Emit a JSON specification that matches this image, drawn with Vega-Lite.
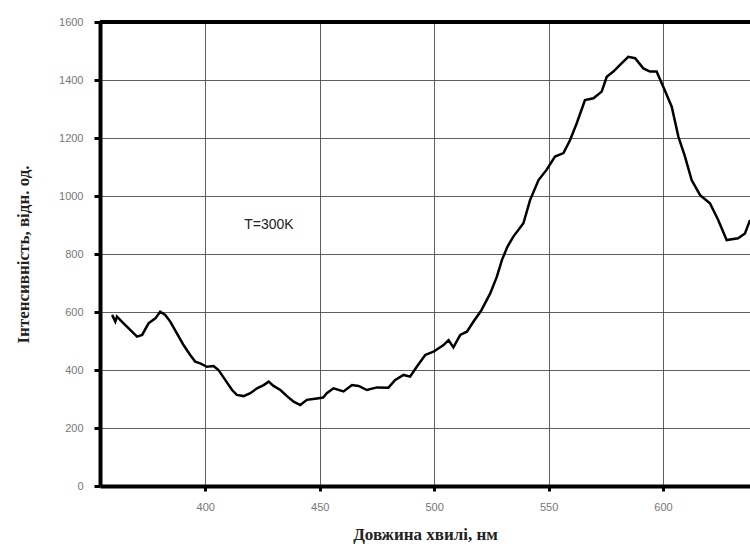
{
  "$schema": "https://vega.github.io/schema/vega-lite/v6.json",
  "autosize": "none",
  "width": 650,
  "height": 464,
  "padding": {"left": 100, "top": 22, "right": 0, "bottom": 65},
  "background": "white",
  "config": {
    "view": {"stroke": null},
    "axis": {
      "grid": true, "gridColor": "#444", "gridWidth": 1, "gridOpacity": 0.85,
      "domainColor": "#000", "domainWidth": 4, "domainOpacity": 1,
      "tickColor": "#000", "tickWidth": 3, "tickOpacity": 1,
      "labelFont": "Liberation Sans", "labelFontSize": 11, "labelColor": "#777",
      "titleFont": "Liberation Serif", "titleFontSize": 17, "titleFontWeight": "bold",
      "titleColor": "#222"
    }
  },
  "datasets": {
    "spectrum": [
      {"wl": 359.3, "I": 590}, {"wl": 360.7, "I": 567}, {"wl": 361.4, "I": 584}, {"wl": 364.3, "I": 561},
      {"wl": 367.2, "I": 538}, {"wl": 370.2, "I": 515}, {"wl": 372.4, "I": 521}, {"wl": 375.2, "I": 561},
      {"wl": 378.2, "I": 578}, {"wl": 380.3, "I": 601}, {"wl": 382.5, "I": 590}, {"wl": 384.7, "I": 567},
      {"wl": 387.6, "I": 526}, {"wl": 390.5, "I": 486}, {"wl": 393.4, "I": 452}, {"wl": 395.6, "I": 429},
      {"wl": 397.8, "I": 423}, {"wl": 400.7, "I": 411}, {"wl": 403.6, "I": 414}, {"wl": 405.8, "I": 400},
      {"wl": 408.7, "I": 366}, {"wl": 411.7, "I": 331}, {"wl": 413.8, "I": 314}, {"wl": 416.7, "I": 310},
      {"wl": 419.7, "I": 320}, {"wl": 422.6, "I": 337}, {"wl": 425.5, "I": 348}, {"wl": 427.7, "I": 360},
      {"wl": 429.8, "I": 345}, {"wl": 432.8, "I": 331}, {"wl": 435.7, "I": 310}, {"wl": 438.6, "I": 291},
      {"wl": 441.5, "I": 279}, {"wl": 444.4, "I": 297}, {"wl": 448.8, "I": 302}, {"wl": 451.5, "I": 305},
      {"wl": 453.1, "I": 320}, {"wl": 456.0, "I": 337}, {"wl": 460.4, "I": 326}, {"wl": 464.1, "I": 348},
      {"wl": 467.0, "I": 345}, {"wl": 470.6, "I": 331}, {"wl": 475.0, "I": 340}, {"wl": 480.0, "I": 339},
      {"wl": 483.0, "I": 366}, {"wl": 486.6, "I": 383}, {"wl": 489.5, "I": 377}, {"wl": 492.4, "I": 411},
      {"wl": 496.1, "I": 452}, {"wl": 499.7, "I": 463}, {"wl": 504.1, "I": 486}, {"wl": 506.3, "I": 503},
      {"wl": 508.4, "I": 478}, {"wl": 511.4, "I": 521}, {"wl": 514.3, "I": 532}, {"wl": 517.2, "I": 567},
      {"wl": 520.5, "I": 604}, {"wl": 524.5, "I": 664}, {"wl": 527.4, "I": 722}, {"wl": 529.6, "I": 779},
      {"wl": 532.0, "I": 825}, {"wl": 534.6, "I": 860}, {"wl": 539.0, "I": 906}, {"wl": 541.9, "I": 986},
      {"wl": 545.6, "I": 1055}, {"wl": 549.1, "I": 1090}, {"wl": 552.8, "I": 1136}, {"wl": 556.5, "I": 1148},
      {"wl": 559.4, "I": 1193}, {"wl": 562.3, "I": 1251}, {"wl": 565.9, "I": 1331}, {"wl": 569.6, "I": 1337},
      {"wl": 573.2, "I": 1360}, {"wl": 575.4, "I": 1411}, {"wl": 578.3, "I": 1429}, {"wl": 581.2, "I": 1452},
      {"wl": 584.8, "I": 1480}, {"wl": 587.8, "I": 1475}, {"wl": 591.4, "I": 1440}, {"wl": 594.3, "I": 1429},
      {"wl": 597.2, "I": 1429}, {"wl": 600.1, "I": 1377}, {"wl": 603.8, "I": 1308}, {"wl": 606.7, "I": 1205},
      {"wl": 609.6, "I": 1136}, {"wl": 612.5, "I": 1055}, {"wl": 616.2, "I": 1003}, {"wl": 620.5, "I": 975},
      {"wl": 624.1, "I": 917}, {"wl": 627.8, "I": 848}, {"wl": 632.8, "I": 854}, {"wl": 635.8, "I": 871},
      {"wl": 638.0, "I": 917}
    ],
    "label": [{"wl": 417, "I": 900, "text": "T=300K"}],
    "frame": [{"top": 1600}]
  },
  "layer": [
    {
      "data": {"name": "spectrum"},
      "mark": {"type": "line", "color": "black", "strokeWidth": 2.5, "clip": true},
      "encoding": {
        "x": {
          "field": "wl", "type": "quantitative",
          "scale": {"domain": [354, 638], "nice": false, "zero": false},
          "axis": {
            "title": "Довжина хвилі, нм",
            "values": [400, 450, 500, 550, 600],
            "tickSize": 5, "labelPadding": 10, "titlePadding": 14
          }
        },
        "y": {
          "field": "I", "type": "quantitative",
          "scale": {"domain": [0, 1600], "nice": false},
          "axis": {
            "title": "Інтенсивність, відн. од.",
            "values": [0, 200, 400, 600, 800, 1000, 1200, 1400, 1600],
            "format": "d",
            "tickSize": 6, "labelPadding": 11, "titlePadding": 26
          }
        }
      }
    },
    {
      "data": {"name": "label"},
      "mark": {"type": "text", "align": "left", "baseline": "middle", "font": "Liberation Sans", "fontSize": 14, "color": "#222"},
      "encoding": {
        "x": {"field": "wl", "type": "quantitative"},
        "y": {"field": "I", "type": "quantitative"},
        "text": {"field": "text"}
      }
    },
    {
      "data": {"name": "frame"},
      "mark": {"type": "rule", "color": "black", "strokeWidth": 4},
      "encoding": {"y": {"field": "top", "type": "quantitative"}}
    }
  ]
}
